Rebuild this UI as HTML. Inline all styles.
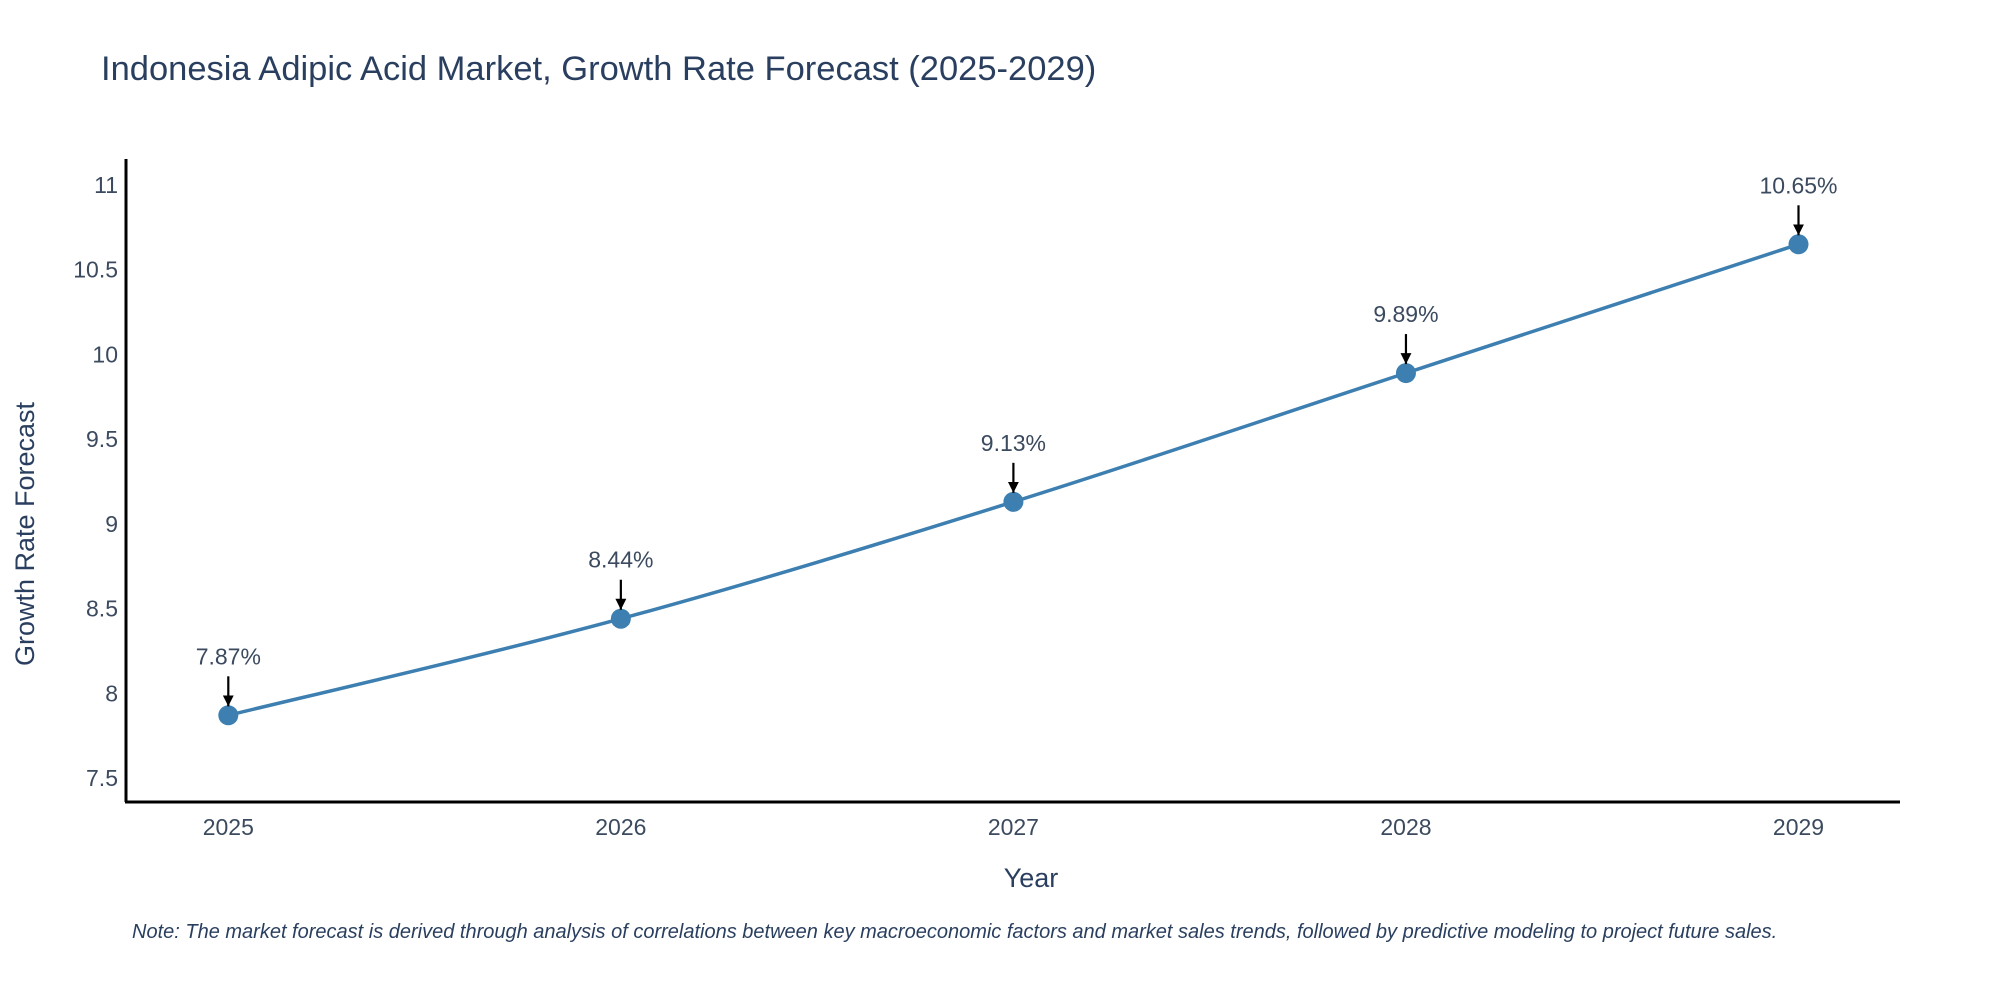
<!DOCTYPE html>
<html><head><meta charset="utf-8"><style>
body{margin:0;background:#fff;}
svg text{font-family:"Liberation Sans",sans-serif;fill:#2a3f5f;}
.tk{fill:#3b4a5e;}
</style></head><body>
<svg id="chart" width="2000" height="1000" xmlns="http://www.w3.org/2000/svg">
<defs><marker id="arr" viewBox="0 0 10 10" refX="10" refY="5" markerWidth="5" markerHeight="5" orient="auto"><path d="M0,0 L10,5 L0,10 z" fill="#000"/></marker></defs>
<text x="101" y="80" font-size="34.5">Indonesia Adipic Acid Market, Growth Rate Forecast (2025-2029)</text>
<g id="yticks"></g><g id="xticks"></g>
<line x1="126" y1="159" x2="126" y2="802" stroke="#000" stroke-width="3"/>
<line x1="125" y1="802" x2="1900" y2="802" stroke="#000" stroke-width="3"/>
<text x="1031" y="887" font-size="27" text-anchor="middle">Year</text>
<text transform="translate(34,534) rotate(-90)" font-size="27" text-anchor="middle">Growth Rate Forecast</text>
<path id="line" fill="none" stroke="#3d7fb0" stroke-width="3.5"/>
<g id="marks"></g>
<text x="132" y="938" font-size="20" font-style="italic">Note: The market forecast is derived through analysis of correlations between key macroeconomic factors and market sales trends, followed by predictive modeling to project future sales.</text>
</svg>
<script>
const years=[2025,2026,2027,2028,2029];
const values=[7.87,8.44,9.13,9.89,10.65];
const labels=["7.87%","8.44%","9.13%","9.89%","10.65%"];
const yTicks=[7.5,8,8.5,9,9.5,10,10.5,11];
const NS="http://www.w3.org/2000/svg";
const xs=i=>228.3+(1798.5-228.3)*(years[i]-years[0])/(years[years.length-1]-years[0]);
const ys=v=>778-(v-7.5)*(778-185)/3.5;
const yt=document.getElementById('yticks');
yTicks.forEach(t=>{const e=document.createElementNS(NS,'text');
e.setAttribute('x',118);e.setAttribute('y',ys(t)+8);e.setAttribute('font-size',23);e.setAttribute('text-anchor','end');e.setAttribute('class','tk');e.textContent=t;


yt.appendChild(e);});
const xt=document.getElementById('xticks');
years.forEach((y,i)=>{const e=document.createElementNS(NS,'text');
e.setAttribute('x',xs(i));e.setAttribute('y',835);e.setAttribute('font-size',23);e.setAttribute('text-anchor','middle');e.setAttribute('class','tk');e.textContent=y;


xt.appendChild(e);});
const P=values.map((v,i)=>[xs(i),ys(v)]);
let d=`M${P[0][0]},${P[0][1]}`;
for(let i=0;i<P.length-1;i++){const p0=P[Math.max(0,i-1)],p1=P[i],p2=P[i+1],p3=P[Math.min(P.length-1,i+2)];const k=0.5/3;
d+=` C${p1[0]+(p2[0]-p0[0])*k},${p1[1]+(p2[1]-p0[1])*k} ${p2[0]-(p3[0]-p1[0])*k},${p2[1]-(p3[1]-p1[1])*k} ${p2[0]},${p2[1]}`;}
document.getElementById('line').setAttribute('d',d);
const g=document.getElementById('marks');
P.forEach((p,i)=>{
const c=document.createElementNS(NS,'circle');c.setAttribute('cx',p[0]);c.setAttribute('cy',p[1]);c.setAttribute('r',10);c.setAttribute('fill','#3d7fb0');


g.appendChild(c);
const l=document.createElementNS(NS,'line');l.setAttribute('x1',p[0]);l.setAttribute('x2',p[0]);l.setAttribute('y1',p[1]-39);l.setAttribute('y2',p[1]-9);l.setAttribute('stroke','#000');l.setAttribute('stroke-width',2.2);l.setAttribute('marker-end','url(#arr)');


g.appendChild(l);
const t=document.createElementNS(NS,'text');t.setAttribute('x',p[0]);t.setAttribute('y',p[1]-51);t.setAttribute('font-size',23);t.setAttribute('text-anchor','middle');t.setAttribute('class','tk');t.textContent=labels[i];


g.appendChild(t);});
</script>
</body></html>
